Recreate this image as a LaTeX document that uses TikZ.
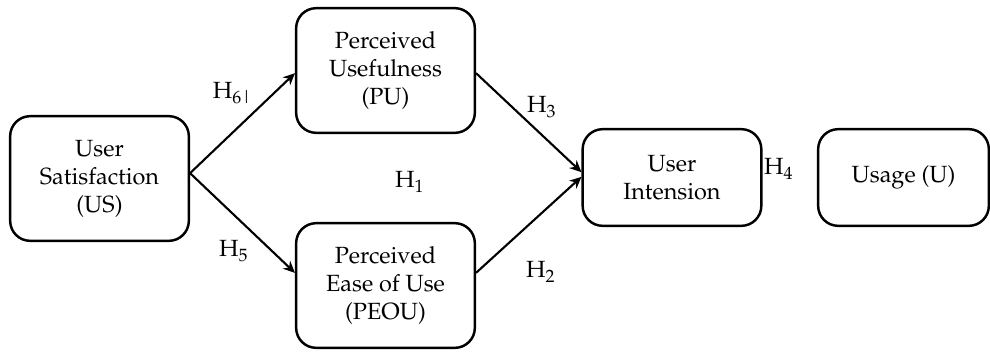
\documentclass[tikz,border=0pt]{standalone}
\usepackage{amsmath}
\usepackage[T1]{fontenc}
\usepackage{mathpazo}
\usetikzlibrary{positioning,arrows.meta}

\begin{document}
\begin{tikzpicture}[x=0.015cm, y=-0.015cm,
  box/.style={draw, line width=1.05pt, rounded corners=0.3cm, align=center,
    minimum width=2.68cm, minimum height=1.87cm, inner sep=0pt},
  smallbox/.style={box, minimum height=1.45cm},
  link/.style={-{Stealth[length=5pt, width=4.6pt, inset=1.6pt]}, line width=0.9pt}]
\useasboundingbox (0,0) rectangle (990,351);

\def\xa{99.5}
\def\xb{385.5}
\def\xc{672}
\def\xd{903.5}

\def\ya{70.5}
\def\yb{178.5}
\def\yc{285.5}
\def\yd{177.5}

\node[box] (us) at (\xa, \yb) {User\\Satisfaction\\(US)};
\node[box] (pu) at (\xb, \ya) {Perceived\\Usefulness\\(PU)};
\node[box] (peou) at (\xb, \yc) {Perceived\\Ease of Use\\(PEOU)};
\node[smallbox] (ui) at (\xc, \yd) {User\\Intension};
\node[smallbox, minimum width=2.56cm] (u) at (\xd, \yd) {Usage (U)};

\draw[link] ([yshift=0.08cm]us.east) -- ([yshift=-0.04cm]pu.west);
\draw[link] ([yshift=0.08cm]us.east) -- ([yshift=0.19cm]peou.west);
\draw[link] ([yshift=-0.04cm]pu.east) -- ([yshift=0.08cm]ui.west);
\draw[link] ([yshift=0.19cm]peou.east) -- ([yshift=0.01cm]ui.west);

\node (h6) at (233, 93) {H\textsubscript{6|}};
\node (h5) at (234, 251) {H\textsubscript{5}};
\node (h1) at (410, 182) {H\textsubscript{1}};
\node (h3) at (542, 107) {H\textsubscript{3}};
\node (h2) at (541, 272) {H\textsubscript{2}};
\node (h4) at (779, 169) {H\textsubscript{4}};
\end{tikzpicture}
\end{document}
